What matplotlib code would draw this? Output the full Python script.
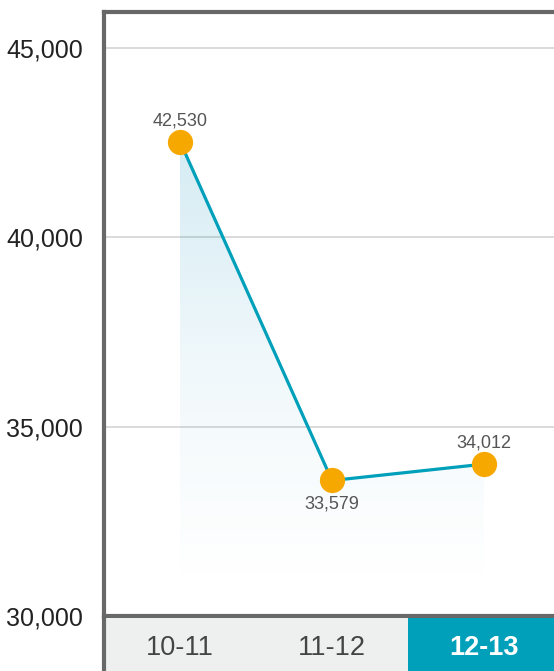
import matplotlib
matplotlib.use("Agg")
import matplotlib.pyplot as plt
import numpy as np
from matplotlib.patches import Polygon
from matplotlib.colors import LinearSegmentedColormap

categories = ["10-11", "11-12", "12-13"]
values = [42530, 33579, 34012]
label_pos = ["above", "below", "above"]
yticks = [30000, 35000, 40000, 45000]
highlight = "12-13"

plt.rcParams['font.family'] = ['Liberation Sans', 'DejaVu Sans']

W, H = 554, 671
fig = plt.figure(figsize=(W/100, H/100), dpi=100)
fig.patch.set_facecolor("white")

left = 104/W
right_px = 104 + 3*152
top = (H-12)/H
bottom = (H-616)/H
ax = fig.add_axes([left, bottom, right_px/W - left, top-bottom])
x = np.arange(len(categories))
ax.set_xlim(-0.5, 2.5)
ymin = 30000
ymax = 30000 + (616-12)/189.3*5000
ax.set_ylim(ymin, ymax)

# gradient fill under line
fill_bottom = 30700
poly_verts = [(x[0], fill_bottom)] + list(zip(x, values)) + [(x[-1], fill_bottom)]
cmap = LinearSegmentedColormap.from_list(
    "g", [(0.0, 0.55, 0.75, 0.0), (0.0, 0.55, 0.75, 0.06), (0.0, 0.55, 0.72, 0.17)])
grad = np.linspace(0, 1, 256).reshape(-1, 1)
im = ax.imshow(grad, extent=[x[0], x[-1], fill_bottom, values[0]], origin="lower",
               aspect="auto", cmap=cmap, zorder=1, interpolation="bilinear")
poly = Polygon(poly_verts, closed=True, facecolor="none", edgecolor="none")
ax.add_patch(poly)
im.set_clip_path(poly)

ax.plot(x, values, color="#00A0BA", lw=2.3, zorder=3, solid_capstyle="round")
ax.scatter(x, values, s=330, color="#F7A800", zorder=4, linewidths=0)

for xi, v, pos in zip(x, values, label_pos):
    off = 9 if pos == "above" else -11
    ax.annotate(f"{v:,}", (xi, v), xytext=(0, off), textcoords="offset points",
                ha="center", va="bottom" if pos == "above" else "top",
                fontsize=13, color="#555555")

ax.set_yticks(yticks)
ax.set_yticklabels([f"{t:,}" for t in yticks], fontsize=18, color="#222222")
ax.tick_params(axis="y", length=0, pad=15)
ax.set_xticks([])
ax.grid(axis="y", color="#d4d4d4", lw=1.2)
ax.set_axisbelow(True)
for s in ["right"]:
    ax.spines[s].set_visible(False)
for s in ["left", "top", "bottom"]:
    ax.spines[s].set_color("#686868")
    ax.spines[s].set_linewidth(3)

# category band
band_top = (H-618)/H
bx = fig.add_axes([left, -0.02, right_px/W - left, band_top + 0.02])
bx.set_xlim(-0.5, 2.5)
bx.set_ylim(0, 1)
for i, c in enumerate(categories):
    hl = c == highlight
    bx.axvspan(i-0.5, i+0.5, color="#00A0BA" if hl else "#EEEFEF", lw=0)
    bx.text(i, 0.55, c, ha="center", va="center",
            fontsize=19.5, color="white" if hl else "#444444",
            fontweight="bold" if hl else "normal")
bx.set_xticks([]); bx.set_yticks([])
for s in ["right", "top", "bottom"]:
    bx.spines[s].set_visible(False)
bx.spines["left"].set_color("#686868")
bx.spines["left"].set_linewidth(3)

fig.savefig("out.png", dpi=100)
